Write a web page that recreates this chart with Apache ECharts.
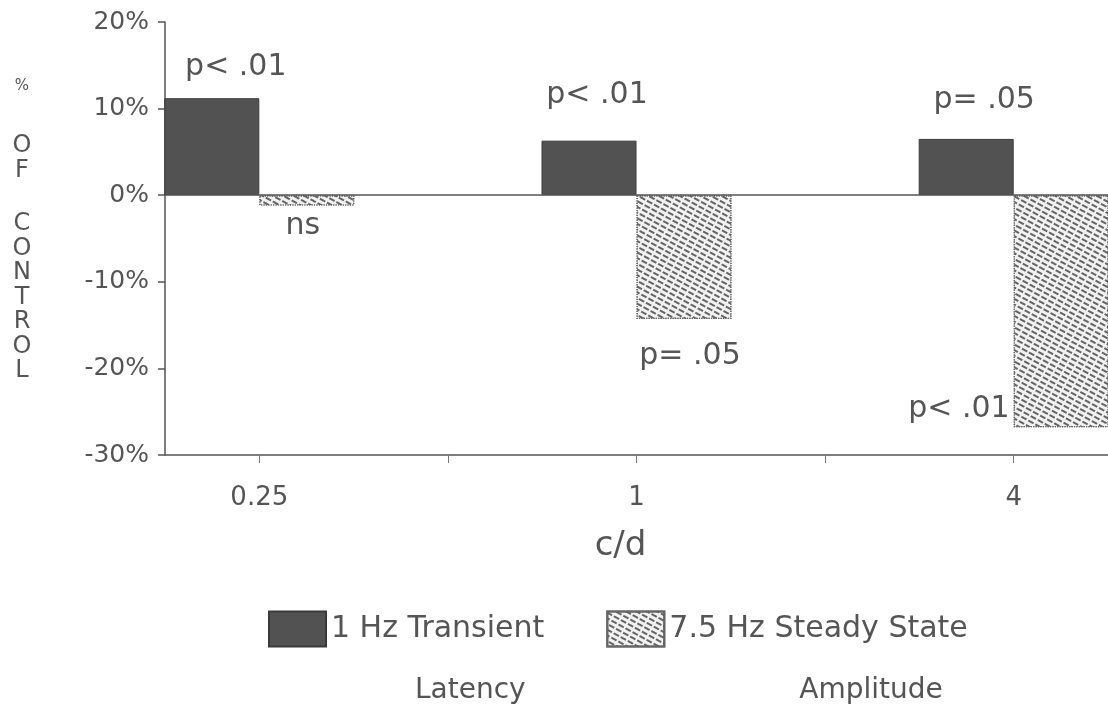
<!DOCTYPE html>
<html>
<head>
<meta charset="utf-8">
<script src="https://cdn.jsdelivr.net/npm/echarts@6/dist/echarts.min.js"></script>
<style>
  html, body { margin: 0; padding: 0; background: #fff; }
  #chart { width: 1108px; height: 704px; }
</style>
</head>
<body>
<div id="chart"></div>
<script>
// data
const categories = ['0.25', '1', '4'];
const transientLatency = [11.2, 6.3, 6.5];
const steadyAmplitude = [-1.2, -14.3, -26.8];
const transientNotes = ['p< .01', 'p< .01', 'p= .05'];
const steadyNotes = ['ns', 'p= .05', 'p< .01'];
const yTicks = [-30, -20, -10, 0, 10, 20];

const transientName = '1 Hz Transient Latency';
const steadyName = '7.5 Hz Steady State Amplitude';

const ink = '#555';
const font = 'DejaVu Sans';

// where each p-value note sits
const transientLabelLayout = [
  { position: 'top', distance: 16, offset: [24, 0] },
  { position: 'top', distance: 30, offset: [8, 0] },
  { position: 'top', distance: 24, offset: [18, 0] }
];
const steadyLabelLayout = [
  { position: 'bottom', distance: 6, offset: [-4, 0] },
  { position: 'bottom', distance: 22, offset: [6, 0] },
  { position: ['0%', '100%'], offset: [-4, -18], align: 'right', verticalAlign: 'middle' }
];

const noteStyle = { show: true, fontSize: 30, color: ink, fontFamily: font };

const chart = echarts.init(document.getElementById('chart'));

const option = {
  backgroundColor: '#fff',
  animation: false,
  textStyle: { fontFamily: font, color: ink },
  grid: {
    left: 165,
    right: 0,
    top: 22,
    bottom: 249,
    containLabel: false,
    outerBoundsMode: 'none'
  },
  legend: {
    left: 263,
    top: 547,
    itemWidth: 57,
    itemHeight: 35,
    itemGap: 62,
    icon: 'rect',
    data: [transientName, steadyName],
    textStyle: {
      color: ink,
      fontFamily: font,
      fontSize: 30,
      rich: {
        s: { fontSize: 30, lineHeight: 62 },
        a: { fontSize: 30, lineHeight: 62 },
        b1: { fontSize: 28, lineHeight: 62, padding: [0, 0, 0, 84] },
        b2: { fontSize: 28, lineHeight: 62, padding: [0, 0, 0, 130] }
      }
    },
    formatter: function (name) {
      if (name === transientName) {
        return '{s| }\n{a|1 Hz Transient}\n{b1|Latency}';
      }
      return '{s| }\n{a|7.5 Hz Steady State}\n{b2|Amplitude}';
    }
  },
  xAxis: {
    type: 'value',
    min: -0.25,
    max: 2.25,
    name: 'c/d',
    nameLocation: 'middle',
    nameGap: 74,
    nameTextStyle: { fontSize: 34, color: ink, fontFamily: font, padding: [0, 32, 0, 0] },
    axisLine: { show: true, onZero: false, lineStyle: { color: ink, width: 1.5 } },
    axisTick: {
      show: true,
      length: 8,
      customValues: [0, 0.5, 1, 1.5, 2],
      lineStyle: { color: '#777', width: 1 }
    },
    axisLabel: {
      customValues: [0, 1, 2],
      margin: 30,
      fontSize: 26,
      color: ink,
      fontFamily: font,
      formatter: function (v) {
        return categories[Math.round(v)];
      }
    },
    splitLine: { show: false }
  },
  yAxis: {
    type: 'value',
    min: yTicks[0],
    max: yTicks[yTicks.length - 1],
    interval: 10,
    name: '{p|%}\n{g| }\n{l|O}\n{l|F}\n{h| }\n{l|C}\n{l|O}\n{l|N}\n{l|T}\n{l|R}\n{l|O}\n{l|L}',
    nameLocation: 'middle',
    nameRotate: 0,
    nameGap: 143,
    nameTextStyle: {
      color: ink,
      fontFamily: font,
      align: 'center',
      padding: [0, 0, 20, 0],
      rich: {
        p: { fontSize: 15, lineHeight: 25 },
        g: { fontSize: 15, lineHeight: 35 },
        h: { fontSize: 15, lineHeight: 29 },
        l: { fontSize: 24, lineHeight: 24.5 }
      }
    },
    axisLine: { show: true, onZero: false, lineStyle: { color: ink, width: 1.5 } },
    axisTick: { show: true, length: 7, lineStyle: { color: ink, width: 1.5 } },
    axisLabel: {
      margin: 16,
      fontSize: 25,
      color: ink,
      fontFamily: font,
      formatter: function (v) {
        return v + '%';
      }
    },
    splitLine: { show: false }
  },
  series: [
    {
      name: transientName,
      type: 'bar',
      barWidth: 95,
      barGap: '0%',
      itemStyle: {
        color: '#525252',
        borderColor: '#3a3a3a',
        borderWidth: 1
      },
      data: transientLatency.map(function (v, i) {
        return {
          value: [i, v],
          label: Object.assign({}, noteStyle, transientLabelLayout[i], {
            formatter: transientNotes[i]
          })
        };
      }),
      markLine: {
        silent: true,
        symbol: ['none', 'none'],
        label: { show: false },
        lineStyle: { color: ink, width: 1.5, type: 'solid' },
        data: [{ yAxis: 0 }]
      }
    },
    {
      name: steadyName,
      type: 'bar',
      barWidth: 95,
      barGap: '0%',
      itemStyle: {
        color: '#f2f2f2',
        borderColor: '#666',
        borderWidth: 1.2,
        borderType: 'dotted',
        decal: {
          symbol: 'rect',
          symbolSize: 1,
          color: 'rgba(75,75,75,0.85)',
          dashArrayX: [6, 2],
          dashArrayY: [1.4, 2.6],
          rotation: 0.5
        }
      },
      data: steadyAmplitude.map(function (v, i) {
        return {
          value: [i, v],
          label: Object.assign({}, noteStyle, steadyLabelLayout[i], {
            formatter: steadyNotes[i]
          })
        };
      })
    }
  ]
};

chart.setOption(option);
</script>
</body>
</html>
